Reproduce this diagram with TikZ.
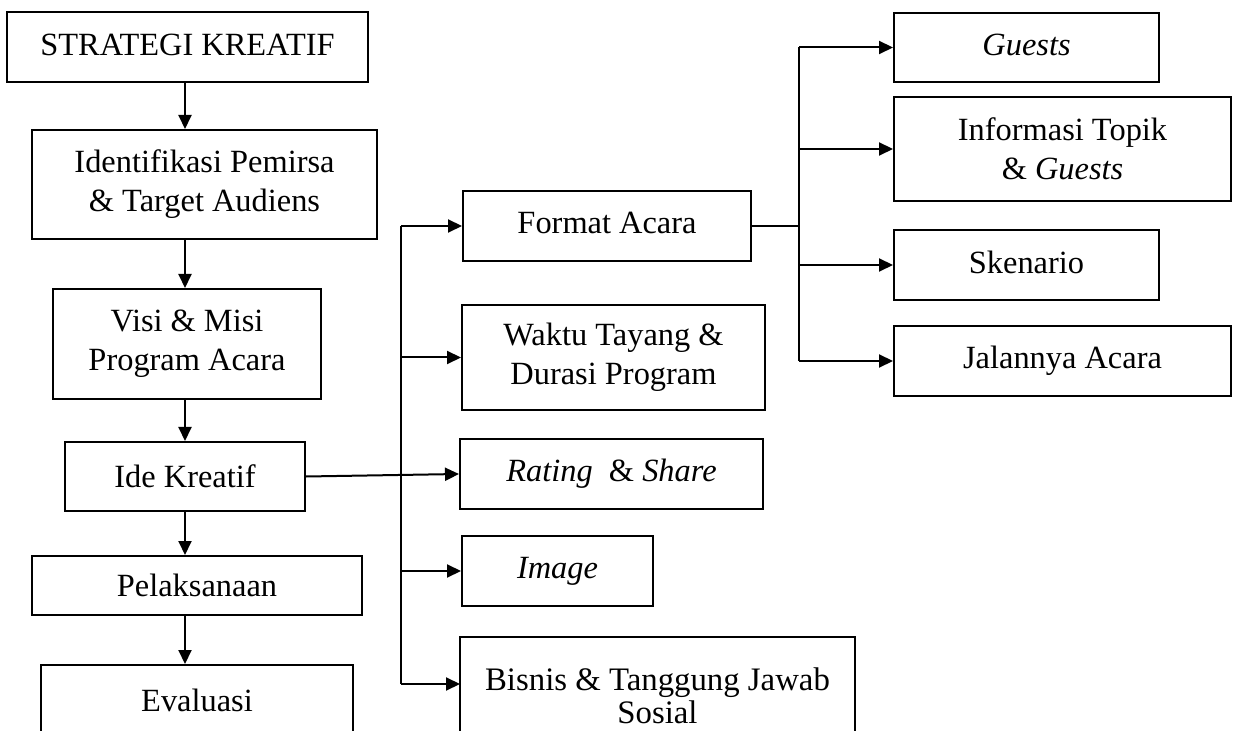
\documentclass[tikz,border=0pt]{standalone}
\usepackage{fontspec}
\setmainfont{Liberation Serif}
\usetikzlibrary{arrows.meta}
\tikzset{
  box/.style={draw, line width=1pt, inner sep=2pt, align=center,
    font=\fontsize{16.2pt}{19.5pt}\selectfont},
  conn/.style={line width=1pt},
  arr/.style={line width=1pt, -{Triangle[length=7pt,width=6.5pt]}}
}
\begin{document}
\begin{tikzpicture}[x=0.5pt,y=-0.5pt]
\useasboundingbox (0,0) rectangle (1235,731);
\clip (0,0) rectangle (1235,731);
% left column
\node[box, minimum width=180.5pt, minimum height=35pt] (A) at (187.5,47) {\raisebox{2pt}{STRATEGI KREATIF}};
\node[box, minimum width=172.5pt, minimum height=54.5pt] (B) at (204.5,184.5) {Identifikasi Pemirsa\\ \& Target Audiens};
\node[box, minimum width=132pt, minimum height=55pt] (C) at (187,344) {\raisebox{2pt}{\parbox{130pt}{\centering Visi \& Misi\\ Program Acara}}};
\node[box, minimum width=120pt, minimum height=34.5pt] (D) at (185,476.5) {Ide Kreatif};
\node[box, minimum width=165pt, minimum height=29.5pt] (E) at (197,585.5) {Pelaksanaan};
\node[box, minimum width=156pt, minimum height=40pt] (F) at (197,705) {\raisebox{5pt}{Evaluasi}};
% middle column
\node[box, minimum width=144pt, minimum height=35pt] (G) at (607,226) {\raisebox{3pt}{Format Acara}};
\node[box, minimum width=151.5pt, minimum height=52.5pt] (H) at (613.5,357.5) {Waktu Tayang \&\\ Durasi Program};
\node[box, minimum width=151.5pt, minimum height=35pt] (I) at (611.5,474) {\textit{Rating}\ \ \& \textit{Share}};
\node[box, minimum width=95.5pt, minimum height=35pt] (J) at (557.5,571) {\textit{Image}};
\node[box, minimum width=197.5pt, minimum height=59pt, font=\fontsize{16.4pt}{16.5pt}\selectfont] (K) at (657.5,696) {Bisnis \& Tanggung Jawab\\ Sosial};
% right column
\node[box, minimum width=132.5pt, minimum height=34.5pt] (L) at (1026.5,47.5) {\raisebox{3pt}{\textit{Guests}}};
\node[box, minimum width=168.5pt, minimum height=52pt] (M) at (1062.5,149) {Informasi Topik\\ \& \textit{Guests}};
\node[box, minimum width=132.5pt, minimum height=35pt] (N) at (1026.5,265) {\raisebox{3pt}{Skenario}};
\node[box, minimum width=168.5pt, minimum height=35pt] (O) at (1062.5,361) {Jalannya Acara};
% helper coordinates
\coordinate (spine) at (185,0);
\coordinate (bus) at (401,0);
\coordinate (rbus) at (799,0);
\coordinate (kin) at (460,684);
% left column arrows
\draw[arr] (A.south -| spine) -- (B.north -| spine);
\draw[arr] (B.south -| spine) -- (C.north -| spine);
\draw[arr] (C.south -| spine) -- (D.north -| spine);
\draw[arr] (D.south -| spine) -- (E.north -| spine);
\draw[arr] (E.south -| spine) -- (F.north -| spine);
% middle bus
\draw[conn] (bus |- G.west) -- (bus |- kin);
\draw[arr] (D.east) -- (I.west);
\draw[arr] (bus |- G.west) -- (G.west);
\draw[arr] (bus |- H.west) -- (H.west);
\draw[arr] (bus |- J.west) -- (J.west);
\draw[arr] (bus |- kin) -- (kin);
% right bus
\draw[conn] (G.east) -- (rbus |- G.east);
\draw[conn] (rbus |- L.west) -- (rbus |- O.west);
\draw[arr] (rbus |- L.west) -- (L.west);
\draw[arr] (rbus |- M.west) -- (M.west);
\draw[arr] (rbus |- N.west) -- (N.west);
\draw[arr] (rbus |- O.west) -- (O.west);
\end{tikzpicture}
\end{document}
